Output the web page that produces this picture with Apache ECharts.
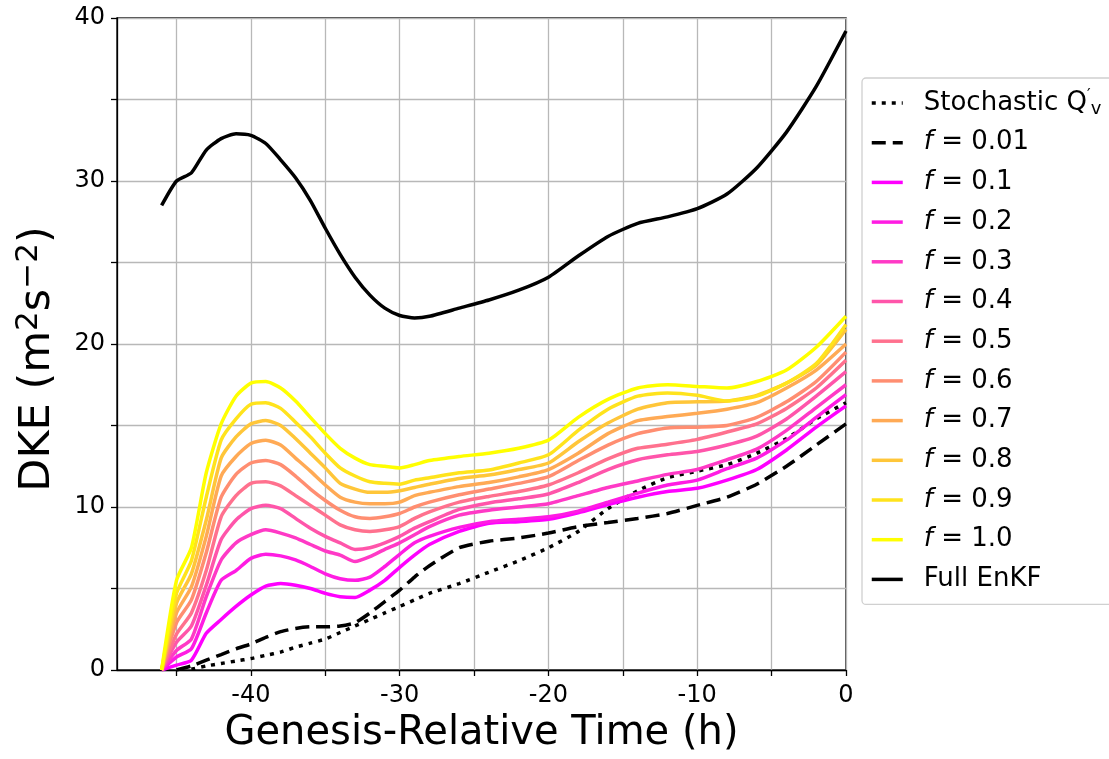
<!DOCTYPE html>
<html>
<head>
<meta charset="utf-8">
<script src="https://cdn.jsdelivr.net/npm/echarts@6/dist/echarts.min.js"></script>
<style>
  html, body { margin: 0; padding: 0; background: #fff; }
  #chart { width: 1109px; height: 759px; }
</style>
</head>
<body>
<div id="chart"></div>
<script>
// genesis-relative time (h)
const times = [-46, -45, -44, -43, -42, -41, -40, -39, -38, -37, -36, -35, -34, -33, -32, -31, -30, -29, -28,
  -26, -24, -22, -20, -18, -16, -14, -12, -10, -8, -6, -4, -2, 0];

const stochastic = [null, null, 0.05, 0.25, 0.4, 0.55, 0.7, 0.9, 1.1, 1.4, 1.65, 1.9, 2.3, 2.7, 3.1, 3.5, 3.9, 4.3, 4.7,
  5.3, 6.0, 6.7, 7.5, 8.5, 9.9, 11.0, 11.8, 12.2, 12.6, 13.3, 14.2, 15.4, 16.4];
const f001 = [null, 0, 0.25, 0.6, 0.95, 1.3, 1.6, 2.0, 2.35, 2.55, 2.65, 2.65, 2.7, 2.9, 3.5, 4.2, 4.9, 5.7, 6.4,
  7.5, 7.9, 8.1, 8.4, 8.8, 9.05, 9.3, 9.6, 10.1, 10.6, 11.4, 12.5, 13.8, 15.1];
const f01 = [0, 0.3, 0.6, 2.25, 3.1, 3.9, 4.6, 5.15, 5.3, 5.2, 5.0, 4.7, 4.5, 4.45, 4.9, 5.5, 6.3, 7.05, 7.7,
  8.5, 9.0, 9.1, 9.25, 9.65, 10.15, 10.6, 10.95, 11.15, 11.65, 12.3, 13.5, 14.9, 16.2];
const f02 = [0, 0.8, 1.3, 3.5, 5.5, 6.1, 6.85, 7.1, 7.0, 6.75, 6.35, 5.9, 5.6, 5.5, 5.7, 6.35, 7.1, 7.8, 8.2,
  8.75, 9.1, 9.25, 9.4, 9.75, 10.3, 10.85, 11.35, 11.65, 12.35, 13.0, 14.1, 15.5, 16.9];
const f03 = [0, 1.2, 1.9, 4.5, 6.75, 7.8, 8.3, 8.6, 8.4, 8.1, 7.7, 7.3, 7.05, 6.65, 6.95, 7.4, 7.8, 8.3, 8.8,
  9.5, 9.8, 10.0, 10.2, 10.7, 11.2, 11.6, 12.0, 12.3, 12.9, 13.55, 14.7, 16.1, 17.5];
const f04 = [0, 1.7, 2.7, 5.2, 8.0, 9.2, 9.9, 10.1, 9.9, 9.3, 8.7, 8.2, 7.8, 7.4, 7.5, 7.8, 8.2, 8.7, 9.1,
  9.85, 10.25, 10.5, 10.8, 11.5, 12.3, 12.9, 13.2, 13.4, 13.8, 14.35, 15.4, 16.8, 18.3];
const f05 = [0, 2.2, 3.5, 6.1, 9.4, 10.7, 11.45, 11.55, 11.3, 10.7, 10.1, 9.5, 8.9, 8.6, 8.5, 8.6, 8.8, 9.3, 9.7,
  10.3, 10.65, 10.95, 11.35, 12.1, 12.95, 13.6, 13.85, 14.15, 14.6, 15.1, 16.05, 17.3, 19.0];
const f06 = [0, 2.9, 4.3, 7.2, 10.6, 12.0, 12.7, 12.85, 12.6, 11.9, 11.1, 10.4, 9.8, 9.4, 9.3, 9.4, 9.6, 10.0, 10.3,
  10.75, 11.1, 11.45, 11.86, 12.85, 13.8, 14.5, 14.85, 14.9, 15.0, 15.5, 16.45, 17.7, 19.5];
const f07 = [0, 3.5, 5.1, 8.2, 11.9, 13.1, 13.9, 14.1, 13.8, 13.0, 12.2, 11.35, 10.6, 10.3, 10.2, 10.2, 10.3, 10.7, 10.9,
  11.25, 11.5, 11.85, 12.3, 13.3, 14.5, 15.3, 15.55, 15.75, 16.0, 16.4, 17.3, 18.4, 20.0];
const f08 = [0, 4.1, 5.9, 9.2, 13.0, 14.3, 15.1, 15.3, 15.0, 14.2, 13.3, 12.4, 11.45, 11.1, 10.9, 10.9, 11.0, 11.2, 11.4,
  11.75, 11.96, 12.3, 12.7, 14.0, 15.15, 16.0, 16.4, 16.45, 16.5, 16.85, 17.6, 18.7, 20.9];
const f09 = [0, 4.7, 6.7, 10.6, 14.1, 15.4, 16.3, 16.4, 16.05, 15.2, 14.3, 13.3, 12.4, 11.9, 11.55, 11.45, 11.4, 11.65, 11.8,
  12.1, 12.27, 12.7, 13.2, 14.7, 16.0, 16.8, 17.0, 16.85, 16.5, 16.8, 17.6, 18.8, 21.2];
const f10 = [0, 5.5, 7.5, 12.1, 15.1, 16.8, 17.6, 17.7, 17.3, 16.5, 15.5, 14.5, 13.6, 13.0, 12.6, 12.5, 12.4, 12.6, 12.85,
  13.1, 13.3, 13.6, 14.1, 15.5, 16.6, 17.3, 17.5, 17.4, 17.3, 17.7, 18.4, 19.8, 21.7];
const fullEnKF = [28.5, 30.0, 30.5, 31.9, 32.6, 32.9, 32.8, 32.3, 31.3, 30.2, 28.8, 27.1, 25.5, 24.1, 23.0, 22.2, 21.75, 21.6, 21.7,
  22.2, 22.7, 23.3, 24.1, 25.4, 26.6, 27.4, 27.8, 28.3, 29.2, 30.8, 33.0, 35.8, 39.2];

const fLabels = ['0.1', '0.2', '0.3', '0.4', '0.5', '0.6', '0.7', '0.8', '0.9', '1.0'];
const fData = [f01, f02, f03, f04, f05, f06, f07, f08, f09, f10];
// spring colormap
const fColors = ['#ff00ff', '#ff1ce3', '#ff39c6', '#ff55aa', '#ff718e', '#ff8e71', '#ffaa55', '#ffc639', '#ffe31c', '#ffff00'];

const xTicks = [-45, -40, -35, -30, -25, -20, -15, -10, -5, 0];
const xLabels = [-40, -30, -20, -10, 0];
const yLabels = [0, 10, 20, 30, 40];

const FONT = 'DejaVu Sans';
const toPairs = arr => times.map((t, i) => [t, arr[i]]);

const line = (name, data, color, type, width) => ({
  name,
  type: 'line',
  data: toPairs(data),
  symbol: 'none',
  smooth: 0.2,
  lineStyle: { color, width, type, cap: 'butt' },
  itemStyle: { color },
  emphasis: { disabled: true },
  animation: false,
});

const series = [
  line('Stochastic', stochastic, '#000', [4, 6], 3.5),
  line('f001', f001, '#000', [14, 7], 3.5),
];
fData.forEach((d, i) => series.push(line('f' + fLabels[i], d, fColors[i], 'solid', 3.5)));
series.push(line('Full EnKF', fullEnKF, '#000', 'solid', 3.5));

const legendText = name => {
  if (name === 'Stochastic') return '{t|Stochastic Q}{sp|′}{sb|v}';
  if (name === 'f001') return '{i|f} = 0.01';
  if (name === 'Full EnKF') return 'Full EnKF';
  return '{i|f} = ' + name.slice(1);
};

const myChart = echarts.init(document.getElementById('chart'), null, { renderer: 'canvas' });

const option = {
  backgroundColor: '#fff',
  animation: false,
  grid: {
    left: 117,
    right: 263,
    top: 18,
    bottom: 89,
    show: true,
    borderColor: '#000',
    borderWidth: 1.3,
    backgroundColor: 'transparent',
  },
  legend: {
    orient: 'vertical',
    left: 862,
    top: 78,
    padding: [10, 40, 10, 8],
    itemWidth: 31,
    itemHeight: 14,
    itemGap: 9.7,
    backgroundColor: '#fff',
    borderColor: '#d0d0d0',
    borderWidth: 1.3,
    borderRadius: 4,
    selectedMode: false,
    itemStyle: { opacity: 0, borderWidth: 0 },
    lineStyle: { width: 3.5 },
    formatter: legendText,
    textStyle: {
      fontFamily: FONT,
      fontSize: 26,
      lineHeight: 30,
      color: '#000',
      padding: [0, 0, 0, 16],
      rich: {
        t: { fontFamily: FONT, fontSize: 26, lineHeight: 30, color: '#000' },
        i: { fontFamily: FONT, fontSize: 26, lineHeight: 30, fontStyle: 'italic', color: '#000' },
        sp: { fontFamily: FONT, fontSize: 16, lineHeight: 30, verticalAlign: 'top', color: '#000' },
        sb: { fontFamily: FONT, fontSize: 18, lineHeight: 30, verticalAlign: 'bottom', color: '#000' },
      },
    },
  },
  xAxis: {
    type: 'value',
    min: -49,
    max: 0,
    name: 'Genesis-Relative Time (h)',
    nameLocation: 'middle',
    nameGap: 44,
    nameTextStyle: { fontFamily: FONT, fontSize: 40, color: '#000', verticalAlign: 'top' },
    axisLine: { show: true, onZero: false, lineStyle: { color: '#000', width: 1.3 } },
    axisTick: { show: true, length: 6, customValues: xTicks, lineStyle: { color: '#000', width: 1.3 } },
    axisLabel: {
      show: true,
      customValues: xLabels,
      margin: 14,
      fontFamily: FONT,
      fontSize: 24,
      color: '#000',
    },
    splitLine: { show: true, lineStyle: { color: '#b8b8b8', width: 1.3 } },
  },
  yAxis: {
    type: 'value',
    min: 0,
    max: 40,
    interval: 5,
    name: 'DKE (m{sp|2}s{sp|−2})',
    nameLocation: 'middle',
    nameGap: 54,
    nameTextStyle: {
      fontFamily: FONT,
      fontSize: 43,
      lineHeight: 50,
      color: '#000',
      padding: [0, 30, 0, 0],
      rich: {
        sp: { fontFamily: FONT, fontSize: 31, lineHeight: 50, verticalAlign: 'top', color: '#000' },
      },
    },
    axisLine: { show: true, onZero: false, lineStyle: { color: '#000', width: 1.3 } },
    axisTick: { show: true, length: 6, lineStyle: { color: '#000', width: 1.3 } },
    axisLabel: {
      show: true,
      customValues: yLabels,
      margin: 12,
      fontFamily: FONT,
      fontSize: 24,
      color: '#000',
    },
    splitLine: { show: true, lineStyle: { color: '#b8b8b8', width: 1.3 } },
  },
  series,
};

myChart.setOption(option);
</script>
</body>
</html>
